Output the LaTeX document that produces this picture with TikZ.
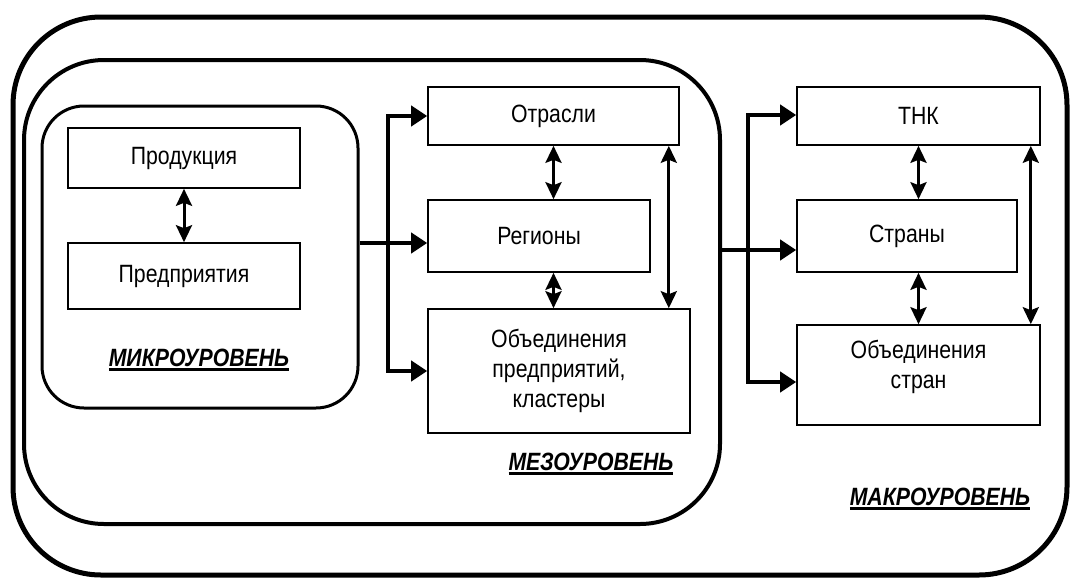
\documentclass[tikz,border=0pt]{standalone}
\usepackage{fontspec}
\setmainfont[FakeStretch=0.85]{Liberation Sans}
\newcommand\myul[1]{\leavevmode\setbox0=\hbox{#1}\rlap{\rule[-4.5pt]{\wd0}{2.6pt}}\box0}
\usetikzlibrary{arrows.meta,calc}
\begin{document}
\begin{tikzpicture}[x=1pt,y=-1pt,
  box/.style={draw,line width=1.6pt,fill=white,align=center,inner sep=2pt,
    font=\fontsize{25}{30}\selectfont},
  zone/.style={draw,inner sep=0pt},
  lvl/.style={font=\fontsize{25}{28}\selectfont\bfseries\itshape,inner sep=0pt},
  dbl/.style={line width=3pt,{Stealth[length=17pt,width=16pt,inset=3pt]}-{Stealth[length=17pt,width=16pt,inset=3pt]}},
  busline/.style={line width=4.5pt,line cap=rect},
  busarrow/.style={line width=4.5pt,-{Triangle[length=16pt,width=20pt]}}
]
\useasboundingbox (0,0) rectangle (1072,579);
\node[zone,line width=5pt,rounded corners=88pt,minimum width=1054pt,minimum height=558pt] (macro) at (540,296) {};
\node[zone,line width=4pt,rounded corners=80pt,minimum width=696pt,minimum height=464pt] (meso) at (372,292) {};
\node[zone,line width=3pt,rounded corners=42pt,minimum width=316pt,minimum height=302pt] (micro) at (200,257) {};

\node[box,minimum width=232pt,minimum height=60pt] (prod) at (184,158) {Продукция};
\node[box,minimum width=232pt,minimum height=66pt] (pred) at (184,276) {Предприятия};

\node[box,minimum width=251pt,minimum height=58pt] (otr) at (553.5,116) {Отрасли};
\node[box,minimum width=222pt,minimum height=72pt] (reg) at (539,236) {Регионы};
\node[box,minimum width=262pt,minimum height=124pt] (ob) at (559,371) {Объединения\\предприятий,\\кластеры};

\node[box,minimum width=243pt,minimum height=58pt] (tnk) at (918.5,116) {ТНК};
\node[box,minimum width=220pt,minimum height=72pt] (str) at (907,236) {Страны};
\node[box,minimum width=243pt,minimum height=100pt] (obs) at (918.5,375) {Объединения\\стран\\[-8pt]};

\node[lvl] (lmic) at (199,360) {\myul{МИКРОУРОВЕНЬ}};
\node[lvl] (lmes) at (591,464) {\myul{МЕЗОУРОВЕНЬ}};
\node[lvl] (lmac) at (940,499) {\myul{МАКРОУРОВЕНЬ}};

% micro -> meso
\coordinate (b1) at (388,243);
\draw[busline] (b1 |- otr.west) -- (b1 |- ob.west);
\draw[line width=4.5pt] (micro.east |- b1) -- (b1);
\draw[busarrow] (b1) -- (reg.west |- b1);
\draw[busarrow] (b1 |- otr.west) -- (otr.west);
\draw[busarrow] (b1 |- ob.west) -- (ob.west);

% meso -> macro
\coordinate (b2) at (748,250);
\coordinate (b2t) at (748,115);
\coordinate (b2b) at (748,382);
\draw[busline] (b2t) -- (b2b);
\draw[line width=4.5pt] (meso.east |- b2) -- (b2);
\draw[busarrow] (b2) -- (str.west |- b2);
\draw[busarrow] (b2t) -- (tnk.west |- b2t);
\draw[busarrow] (b2b) -- (obs.west |- b2b);

% double arrows
\draw[dbl] (prod.south) -- (pred.north);
\draw[dbl] (otr.south) -- (otr.south |- reg.north);
\draw[dbl] (otr.south |- reg.south) -- (otr.south |- ob.north);
\coordinate (r1) at ($(otr.south east)+(-11,0)$);
\draw[dbl] (r1) -- (r1 |- ob.north);
\draw[dbl] (tnk.south) -- (tnk.south |- str.north);
\draw[dbl] (tnk.south |- str.south) -- (tnk.south |- obs.north);
\coordinate (r2) at ($(tnk.south east)+(-10,0)$);
\draw[dbl] (r2) -- (r2 |- obs.north);
\end{tikzpicture}
\end{document}
